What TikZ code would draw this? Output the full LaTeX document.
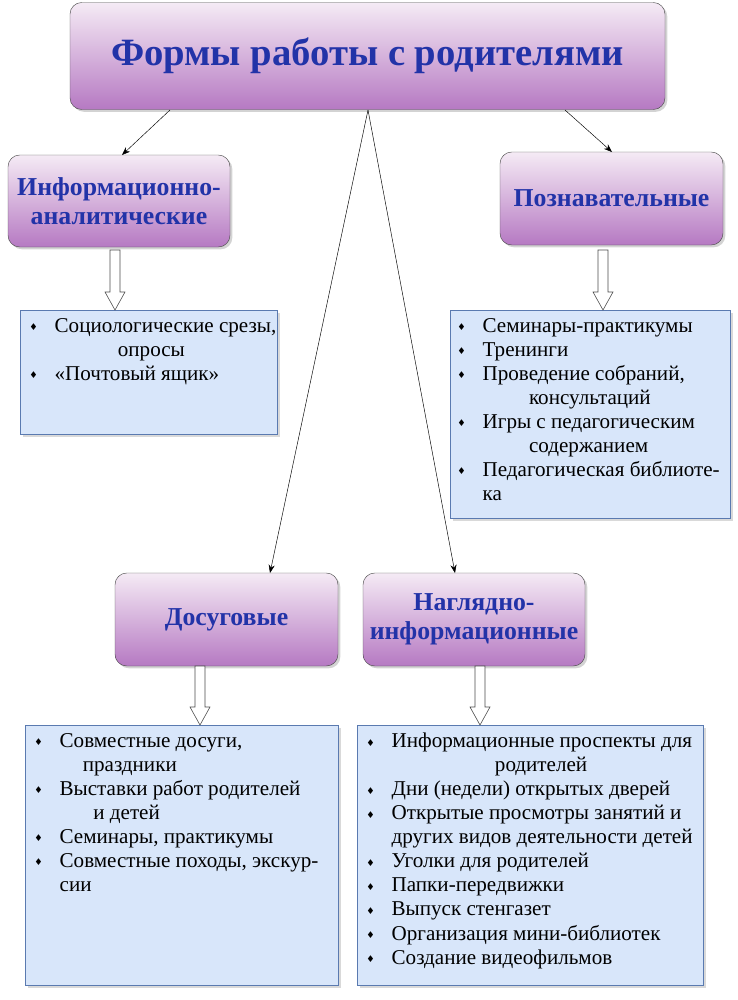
\documentclass[tikz,border=0pt]{standalone}
\usepackage{fontspec}
\setmainfont{Liberation Serif}
\newfontfamily\djfont{DejaVu Sans}
\usetikzlibrary{shadows,arrows.meta}
\definecolor{hd}{HTML}{2233A8}
\definecolor{lb}{HTML}{D8E6FA}
\definecolor{lbd}{HTML}{5A7AB0}
\newcommand{\bul}{\makebox[1.3em][l]{\hspace{0.1em}\raisebox{0.15ex}{\djfont\fontsize{8}{8}\selectfont\char"2666}}}
\newcommand{\ind}[1]{\hspace*{#1}}
\tikzset{
 head/.style={draw=black!70,rounded corners=10pt,top color=white!92!violet,bottom color=violet!50!white!95!blue,
   drop shadow={opacity=0.35,shadow xshift=2pt,shadow yshift=-2pt},font=\bfseries\fontsize{22}{25}\selectfont,
   text=hd,align=center,inner sep=0},
 listbox/.style={draw=lbd,fill=lb,drop shadow={opacity=0.3,shadow xshift=2pt,shadow yshift=-2pt}},
 lst/.style={anchor=north west,align=left,font=\fontsize{18}{20.5}\selectfont,inner sep=0},
 conn/.style={-{Stealth[length=7pt]},thin},
 blk/.style={draw=black!70,fill=white,line width=0.5pt}
}
\begin{document}
\begin{tikzpicture}[x=0.3mm,y=-0.3mm]
\useasboundingbox (0,0) rectangle (737,1000);
% headings
\node[head,minimum width=595*0.3mm,minimum height=107*0.3mm,font=\bfseries\fontsize{33}{36}\selectfont] (t) at (367.5,56) {Формы работы с родителями};
\node[head,minimum width=222*0.3mm,minimum height=92*0.3mm] (ia) at (119,201) {Информационно-\\аналитические};
\node[head,minimum width=223*0.3mm,minimum height=93*0.3mm] (pz) at (611.5,198.5) {Познавательные};
\node[head,minimum width=223*0.3mm,minimum height=93*0.3mm] (ds) at (226.5,619.5) {Досуговые};
\node[head,minimum width=222*0.3mm,minimum height=93*0.3mm] (ni) at (474,619.5) {Наглядно-\\информационные};
% connectors
\coordinate (c1) at (170,110); \coordinate (c2) at (368,110); \coordinate (c3) at (565,110);
\draw[conn] (c1) -- (122,155);
\draw[conn] (c2) -- (270,573);
\draw[conn] (c2) -- (455,573);
\draw[conn] (c3) -- (612,152);
% list boxes
\node[listbox,minimum width=257*0.3mm,minimum height=124*0.3mm,anchor=north west] (l1) at (20,310) {};
\node[listbox,minimum width=280*0.3mm,minimum height=208*0.3mm,anchor=north west] (l2) at (450,310) {};
\node[listbox,minimum width=313*0.3mm,minimum height=260*0.3mm,anchor=north west] (l3) at (25,725) {};
\node[listbox,minimum width=346*0.3mm,minimum height=260*0.3mm,anchor=north west] (l4) at (357,725) {};
% block arrows
\foreach \x/\ya/\yb in {115/250/310, 603/250/310, 200/666/725, 480/666/725}{
 \draw[blk] (\x-5,\ya) -- (\x+5,\ya) -- (\x+5,\yb-18) -- (\x+10,\yb-18) -- (\x,\yb) -- (\x-10,\yb-18) -- (\x-5,\yb-18) -- cycle;
}
% lists
\node[lst] (t1) at (27,318) {\bul Социологические срезы,\\ \ind{4.3em}опросы\\ \bul «Почтовый ящик»};
\node[lst] (t2) at (455,318) {\bul Семинары-практикумы\\ \bul Тренинги\\ \bul Проведение собраний,\\ \ind{3.5em}консультаций\\ \bul Игры с педагогическим\\ \ind{3.5em}содержанием\\ \bul Педагогическая библиоте-\\ \ind{1.3em}ка};
\node[lst] (t3) at (32,733) {\bul Совместные досуги,\\ \ind{2.4em}праздники\\ \bul Выставки работ родителей\\ \ind{2.9em}и детей\\ \bul Семинары, практикумы\\ \bul Совместные походы, экскур-\\ \ind{1.3em}сии};
\node[lst] (t4) at (364,733) {\bul Информационные проспекты для\\ \ind{6.2em}родителей\\ \bul Дни (недели) открытых дверей\\ \bul Открытые просмотры занятий и\\ \ind{1.3em}других видов деятельности детей\\ \bul Уголки для родителей\\ \bul Папки-передвижки\\ \bul Выпуск стенгазет\\ \bul Организация мини-библиотек\\ \bul Создание видеофильмов};
\end{tikzpicture}
\end{document}
